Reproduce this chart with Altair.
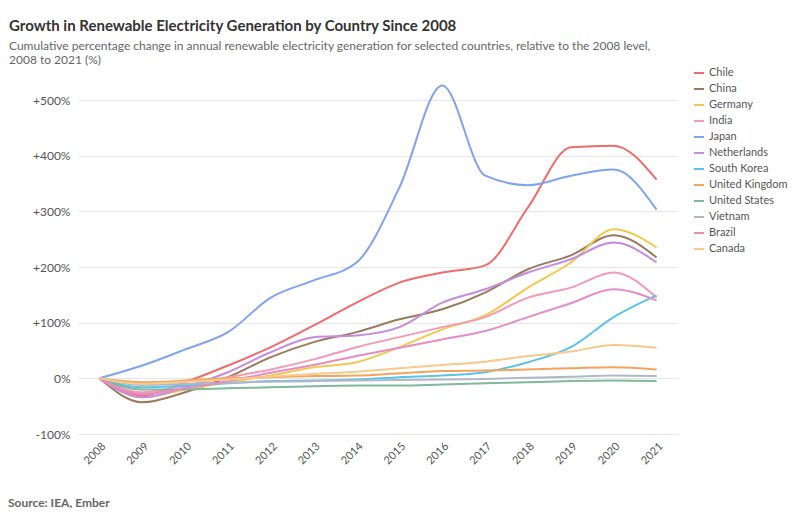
import altair as alt
import pandas as pd

years = ["2008", "2009", "2010", "2011", "2012", "2013", "2014",
         "2015", "2016", "2017", "2018", "2019", "2020", "2021"]

series_names = ["Chile", "China", "Germany", "India", "Japan", "Netherlands",
                "South Korea", "United Kingdom", "United States", "Vietnam",
                "Brazil", "Canada"]
series_colors = ["#f26b6b", "#9c7a5e", "#f2c94c", "#f59ab4", "#7fa3f0", "#c58be0",
                 "#5cc3e8", "#f5a25a", "#7fb89a", "#b0b8c8", "#e88cc8", "#f7c98a"]

chile = [0, -31, -7, 23, 56, 95, 136, 172, 190, 203, 307, 415, 418, 357]
china = [0, -43, -25, 2, 38, 65, 83, 106, 124, 154, 196, 221, 257, 217]
germany = [0, -34, -20, -7, 5, 20, 29, 56, 88, 113, 163, 208, 268, 235]
india = [0, -25, -13, 2, 16, 34, 56, 74, 92, 110, 145, 163, 190, 145]
japan = [0, 23, 52, 83, 145, 176, 208, 343, 526, 364, 347, 364, 375, 303]
netherlands = [0, -34, -16, 11, 47, 74, 77, 92, 136, 160, 190, 214, 244, 208]
south_korea = [0, -16, -13, -9, -5, -4, -2, 2, 5, 11, 29, 56, 110, 149]
united_kingdom = [0, -7, -4, 0, 2, 4, 5, 9, 13, 14, 16, 18, 20, 16]
united_states = [0, -20, -20, -18, -16, -14, -13, -13, -11, -9, -7, -5, -4, -5]
vietnam = [0, -12, -10, -8, -6, -5, -4, -3, -2, -1, 1, 3, 5, 4]
brazil = [0, -28, -18, -5, 10, 24, 40, 55, 70, 85, 110, 135, 160, 140]
canada = [0, -10, -6, -2, 3, 8, 12, 18, 24, 30, 40, 48, 60, 55]

values = [chile, china, germany, india, japan, netherlands, south_korea,
          united_kingdom, united_states, vietnam, brazil, canada]

y_ticks = [-100, 0, 100, 200, 300, 400, 500]

title_text = "Growth in Renewable Electricity Generation by Country Since 2008"
subtitle_lines = [
    "Cumulative percentage change in annual renewable electricity generation for selected countries, relative to the 2008 level,",
    "2008 to 2021 (%)",
]
source_text = "Source: IEA, Ember"

rows = []
for name, vals in zip(series_names, values):
    for yr, v in zip(years, vals):
        rows.append({"Year": yr, "Country": name, "Change": v})
df = pd.DataFrame(rows)

lines = alt.Chart(df).mark_line(strokeWidth=2, interpolate="monotone").encode(
    x=alt.X("Year:O", sort=years,
            scale=alt.Scale(type="point", padding=0.5),
            axis=alt.Axis(title=None, labelAngle=-45, labelFontSize=11,
                          labelColor="#555", domain=False, ticks=False,
                          grid=False, labelPadding=6)),
    y=alt.Y("Change:Q",
            scale=alt.Scale(domain=[-100, 500], nice=False),
            axis=alt.Axis(title=None, values=y_ticks,
                          labelExpr="(datum.value > 0 ? '+' : '') + datum.value + '%'",
                          labelFontSize=12, labelColor="#555",
                          domain=False, ticks=False, labelPadding=8,
                          gridColor="#e6e6e6")),
    color=alt.Color("Country:N",
                    scale=alt.Scale(domain=series_names, range=series_colors),
                    legend=alt.Legend(title=None, orient="none",
                                      legendX=615, legendY=-33,
                                      labelFontSize=11, labelColor="#555",
                                      symbolType="stroke", symbolStrokeWidth=2,
                                      rowPadding=5)),
)

source = alt.Chart(pd.DataFrame({"t": [source_text]})).mark_text(
    align="left", baseline="middle", fontSize=12, fontWeight="bold", color="#666"
).encode(
    x=alt.value(-70), y=alt.value(403), text="t:N"
)

chart = alt.layer(lines, source).properties(
    width=600,
    height=334,
    padding={"left": 0, "top": 11, "right": 5, "bottom": 5},
    title=alt.TitleParams(
        text=title_text,
        subtitle=subtitle_lines,
        anchor="start",
        frame="group",
        fontSize=15,
        fontWeight="bold",
        color="#333",
        subtitleFontSize=12,
        subtitleColor="#666",
        subtitlePadding=7,
        subtitleLineHeight=14,
        offset=1,
        dx=-69,
    ),
).configure(font="Lato", view=alt.ViewConfig(stroke=None))

chart.save("out.html", embed_options={"renderer": "svg", "actions": False})
